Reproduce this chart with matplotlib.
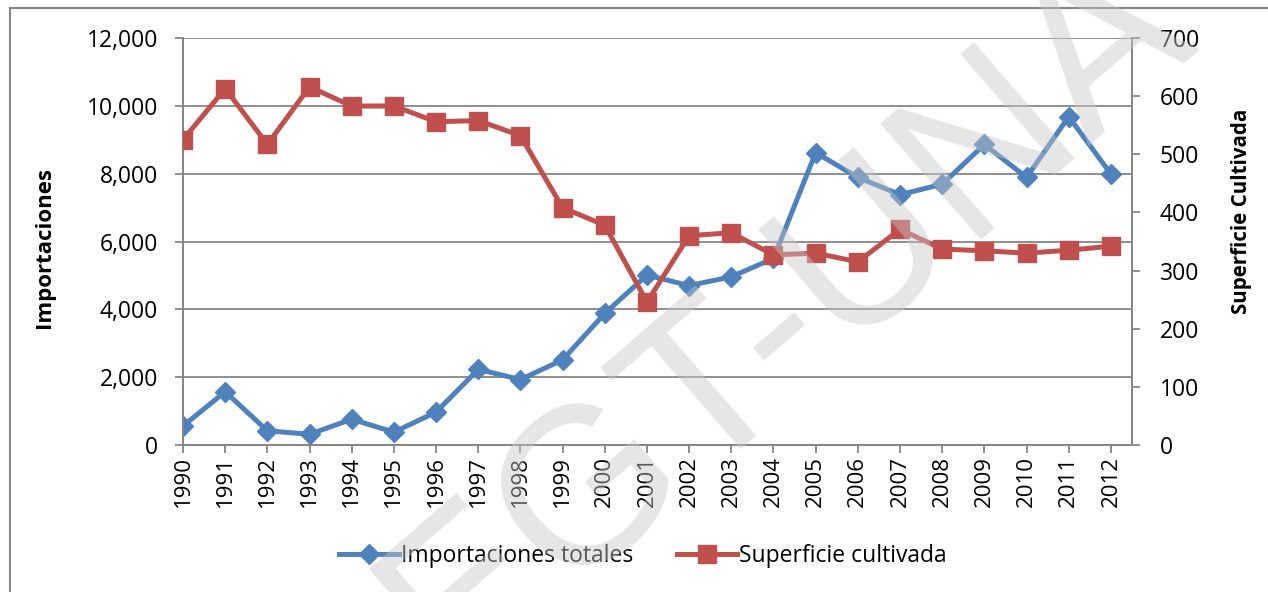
import numpy as np
import matplotlib
matplotlib.use("Agg")
import matplotlib.pyplot as plt
from matplotlib.lines import Line2D

plt.rcParams['font.family'] = ['Open Sans', 'DejaVu Sans']

years = [str(y) for y in range(1990, 2013)]
importaciones = [560, 1570, 420, 315, 760, 380, 970, 2230, 1930, 2510, 3880,
                 5010, 4700, 4960, 5500, 8620, 7890, 7380, 7690, 8860, 7890,
                 9680, 7990]
superficie = [525, 613, 517, 616, 583, 583, 556, 558, 532, 408, 378,
              246, 360, 365, 327, 330, 315, 371, 337, 334, 330, 335, 342]

blue = '#4F81BD'
red = '#C0504D'
gray = '#868686'

W, H = 1268, 592
fig = plt.figure(figsize=(W / 100, H / 100), dpi=100)
ax = fig.add_axes([183 / W, 1 - 445 / H, (1132 - 183) / W, (445 - 38) / H])
ax2 = ax.twinx()

x = np.arange(len(years))
ax.plot(x, importaciones, color=blue, lw=3.6, marker='D', ms=10.5,
        label='Importaciones totales', zorder=3)
ax2.plot(x, superficie, color=red, lw=3.6, marker='s', ms=13,
         label='Superficie cultivada', zorder=3)

ax.set_xlim(0, len(years) - 0.5)
ax.set_ylim(0, 12000)
ax2.set_ylim(0, 700)
ax.set_yticks(range(0, 12001, 2000))
ax.set_yticklabels([f'{v:,}' for v in range(0, 12001, 2000)])
ax2.set_yticks(range(0, 701, 100))
ax.set_xticks(x)
ax.set_xticklabels(years, rotation=90)

ax.grid(axis='y', color=gray, lw=1.3)
ax.set_axisbelow(True)
for a in (ax, ax2):
    a.spines['top'].set_visible(False)
    for s in ('left', 'right', 'bottom'):
        a.spines[s].set_color(gray)
        a.spines[s].set_linewidth(1.3)
    a.tick_params(colors=gray, labelcolor='black', labelsize=16.5,
                  length=6, width=1.3, direction='out', pad=12)
ax2.tick_params(pad=14)
ax.tick_params(axis='x', pad=2, labelsize=16)

fig.text(45 / W, 1 - 247 / H, 'Importaciones', fontsize=16, fontweight='bold',
         rotation=90, ha='center', va='center')
fig.text(1242 / W, 1 - 211 / H, 'Superficie Cultivada', fontsize=14.8,
         fontweight='bold', rotation=90, ha='center', va='center')

h1, l1 = ax.get_legend_handles_labels()
h2, l2 = ax2.get_legend_handles_labels()
fig.legend(h1 + h2, l1 + l2, loc='center', bbox_to_anchor=(0.507, 0.06),
           ncol=2, frameon=False, fontsize=16.5, handlelength=2.6,
           columnspacing=1.9, handletextpad=0.1)

# watermark
fig.text(0.62, 0.465, 'EGT-UNA', fontsize=160, color='#c8c8c8', alpha=0.45,
         rotation=41, ha='center', va='center', family='Liberation Sans',
         zorder=10)

# chart border
fig.add_artist(Line2D([0.008, 0.008], [0, 0.987], color=gray, lw=1.5,
                      transform=fig.transFigure))
fig.add_artist(Line2D([0.008, 1], [0.987, 0.987], color=gray, lw=1.5,
                      transform=fig.transFigure))

fig.savefig('out.png', dpi=100)
